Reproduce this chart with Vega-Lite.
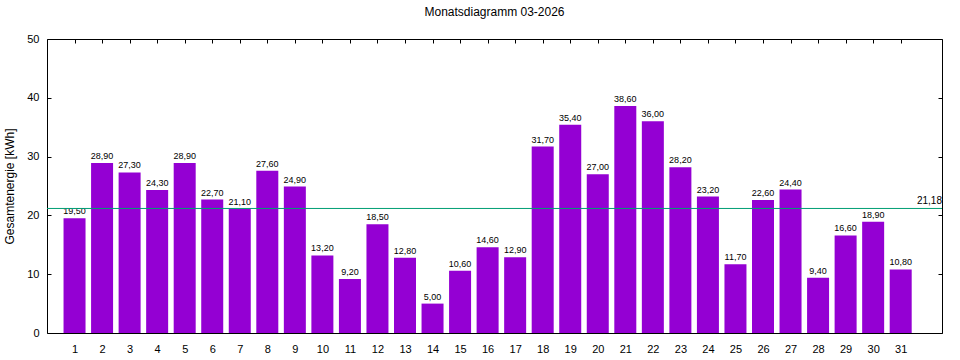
{
  "$schema": "https://vega.github.io/schema/vega-lite/v6.json",
  "autosize": "none",
  "width": 895,
  "height": 294,
  "padding": {"left": 47, "top": 39, "right": 18, "bottom": 27},
  "background": "white",
  "title": {"text": "Monatsdiagramm 03-2026", "fontSize": 12, "fontWeight": "normal", "font": "Liberation Sans", "color": "black", "offset": 14},
  "config": {
    "view": {"stroke": "black", "strokeWidth": 1},
    "locale": {"number": {"decimal": ",", "thousands": ".", "grouping": [3], "currency": ["", " €"]}},
    "axis": {"labelFont": "Liberation Sans", "titleFont": "Liberation Sans", "labelFontSize": 11, "labelColor": "black", "tickColor": "black", "domain": false, "grid": false, "titleFontWeight": "normal", "titleColor": "black"}
  },
  "datasets": {
    "days": [
      {"tag": 1, "energie": 19.5}, {"tag": 2, "energie": 28.9}, {"tag": 3, "energie": 27.3},
      {"tag": 4, "energie": 24.3}, {"tag": 5, "energie": 28.9}, {"tag": 6, "energie": 22.7},
      {"tag": 7, "energie": 21.1}, {"tag": 8, "energie": 27.6}, {"tag": 9, "energie": 24.9},
      {"tag": 10, "energie": 13.2}, {"tag": 11, "energie": 9.2}, {"tag": 12, "energie": 18.5},
      {"tag": 13, "energie": 12.8}, {"tag": 14, "energie": 5.0}, {"tag": 15, "energie": 10.6},
      {"tag": 16, "energie": 14.6}, {"tag": 17, "energie": 12.9}, {"tag": 18, "energie": 31.7},
      {"tag": 19, "energie": 35.4}, {"tag": 20, "energie": 27.0}, {"tag": 21, "energie": 38.6},
      {"tag": 22, "energie": 36.0}, {"tag": 23, "energie": 28.2}, {"tag": 24, "energie": 23.2},
      {"tag": 25, "energie": 11.7}, {"tag": 26, "energie": 22.6}, {"tag": 27, "energie": 24.4},
      {"tag": 28, "energie": 9.4}, {"tag": 29, "energie": 16.6}, {"tag": 30, "energie": 18.9},
      {"tag": 31, "energie": 10.8}
    ],
    "mittel": [{"avg": 21.18}]
  },
  "layer": [
    {
      "data": {"name": "days"},
      "mark": {"type": "bar", "color": "#9400D3", "width": 22},
      "encoding": {
        "x": {"field": "tag", "type": "quantitative", "scale": {"domain": [0, 32.5], "nice": false, "zero": false, "padding": 0},
              "axis": {"orient": "bottom", "title": null, "values": [1,2,3,4,5,6,7,8,9,10,11,12,13,14,15,16,17,18,19,20,21,22,23,24,25,26,27,28,29,30,31], "format": "d", "tickSize": -4, "labelPadding": 14}},
        "y": {"field": "energie", "type": "quantitative", "scale": {"domain": [0, 50], "nice": false},
              "axis": {"orient": "left", "title": "Gesamtenergie [kWh]", "titleFontSize": 12, "values": [0,10,20,30,40,50], "tickSize": -4, "labelPadding": 12, "titlePadding": 10}}
      }
    },
    {
      "data": {"name": "days"},
      "mark": {"type": "text", "baseline": "bottom", "dy": -2, "fontSize": 9, "font": "Liberation Sans", "color": "black"},
      "encoding": {
        "x": {"field": "tag", "type": "quantitative", "axis": {"orient": "top", "title": null, "labels": false, "values": [1,2,3,4,5,6,7,8,9,10,11,12,13,14,15,16,17,18,19,20,21,22,23,24,25,26,27,28,29,30,31], "tickSize": -4}},
        "y": {"field": "energie", "type": "quantitative", "axis": {"orient": "right", "title": null, "labels": false, "values": [0,10,20,30,40,50], "tickSize": -4}},
        "text": {"field": "energie", "type": "quantitative", "format": ".2f"}
      }
    },
    {
      "data": {"name": "mittel"},
      "mark": {"type": "rule", "color": "#009E73", "strokeWidth": 1},
      "encoding": {
        "y": {"field": "avg", "type": "quantitative", "axis": null}
      }
    },
    {
      "data": {"name": "mittel"},
      "mark": {"type": "text", "align": "right", "baseline": "bottom", "dy": -2, "fontSize": 10, "font": "Liberation Sans", "color": "black"},
      "encoding": {
        "x": {"datum": 32.5, "type": "quantitative", "axis": null},
        "y": {"field": "avg", "type": "quantitative", "axis": null},
        "text": {"field": "avg", "type": "quantitative", "format": ".2f"}
      }
    }
  ],
  "resolve": {"axis": {"x": "independent", "y": "independent"}}
}
